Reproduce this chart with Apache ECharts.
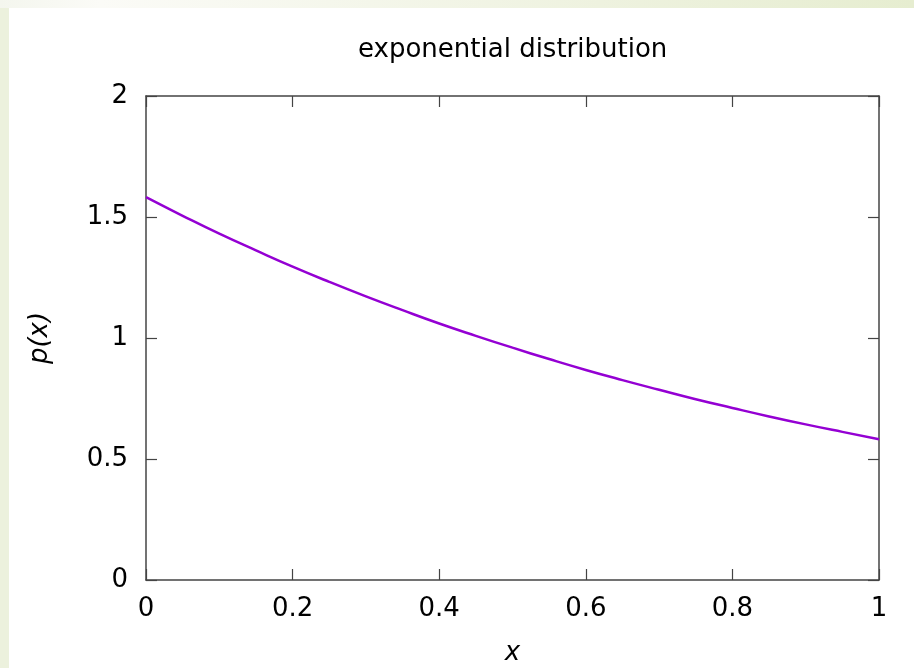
<!DOCTYPE html>
<html>
<head>
<meta charset="utf-8">
<script src="https://cdn.jsdelivr.net/npm/echarts@6/dist/echarts.min.js"></script>
<style>
html,body{margin:0;padding:0;width:914px;height:668px;overflow:hidden;}
body{background:#ecf1dd;}
#top{position:absolute;left:0;top:0;width:914px;height:8px;background:linear-gradient(90deg,#f4f6ee 0px,#fbfbf7 100px,#eef2df 600px,#e6edd0 914px);}
#bg{position:absolute;left:9px;top:8px;right:0;bottom:0;background:#ffffff;}
#chart{position:absolute;left:0;top:0;width:914px;height:668px;}
</style>
</head>
<body>
<div id="top"></div>
<div id="bg"></div>
<div id="chart"></div>
<script>
var titleText = 'exponential distribution';
var xName = 'x';
var yName = 'p(x)';
var xValues = [0, 0.05, 0.1, 0.15, 0.2, 0.25, 0.3, 0.35, 0.4, 0.45, 0.5, 0.55, 0.6, 0.65, 0.7, 0.75, 0.8, 0.85, 0.9, 0.95, 1];
var pValues = [1.582, 1.505, 1.431, 1.362, 1.295, 1.232, 1.172, 1.115, 1.060, 1.009, 0.960, 0.913, 0.868, 0.826, 0.786, 0.747, 0.711, 0.676, 0.643, 0.612, 0.582];

var seriesData = xValues.map(function (x, i) { return [x, pValues[i]]; });
var FONT = 'DejaVu Sans';
var axisCol = '#444444';
var FS = 26;

var chart = echarts.init(document.getElementById('chart'));
function xAx(pos, labels) {
  return {
    type: 'value', position: pos, min: 0, max: 1, interval: 0.2,
    axisLine: {show: true, onZero: false, lineStyle: {color: axisCol, width: 1.5}},
    axisTick: {show: true, inside: true, length: 11, lineStyle: {color: axisCol, width: 1.2}},
    axisLabel: {show: labels, color: '#000', fontFamily: FONT, fontSize: FS, margin: 16},
    splitLine: {show: false},
    name: labels ? xName : '', nameLocation: 'middle', nameGap: 60,
    nameTextStyle: {color: '#000', fontFamily: FONT, fontSize: FS, fontStyle: 'italic'}
  };
}
function yAx(pos, labels) {
  return {
    type: 'value', position: pos, min: 0, max: 2, interval: 0.5,
    axisLine: {show: true, onZero: false, lineStyle: {color: axisCol, width: 1.5}},
    axisTick: {show: true, inside: true, length: 11, lineStyle: {color: axisCol, width: 1.2}},
    axisLabel: {show: labels, color: '#000', fontFamily: FONT, fontSize: FS, margin: 18},
    splitLine: {show: false},
    name: labels ? yName : '', nameLocation: 'middle', nameGap: 93, nameRotate: 90,
    nameTextStyle: {color: '#000', fontFamily: FONT, fontSize: FS, fontStyle: 'italic'}
  };
}
chart.setOption({
  animation: false,
  title: {
    text: titleText, left: 358, top: 37, padding: 0,
    textStyle: {fontFamily: FONT, fontSize: FS, fontWeight: 'normal', color: '#000'}
  },
  grid: {left: 146, right: 35, top: 96, bottom: 88, containLabel: false, outerBoundsMode: 'none'},
  xAxis: [xAx('bottom', true), xAx('top', false)],
  yAxis: [yAx('left', true), yAx('right', false)],
  series: [{
    type: 'line', xAxisIndex: 0, yAxisIndex: 0, data: seriesData,
    smooth: true, showSymbol: false,
    lineStyle: {color: '#9400d3', width: 2.5}
  }]
});
</script>
</body>
</html>
